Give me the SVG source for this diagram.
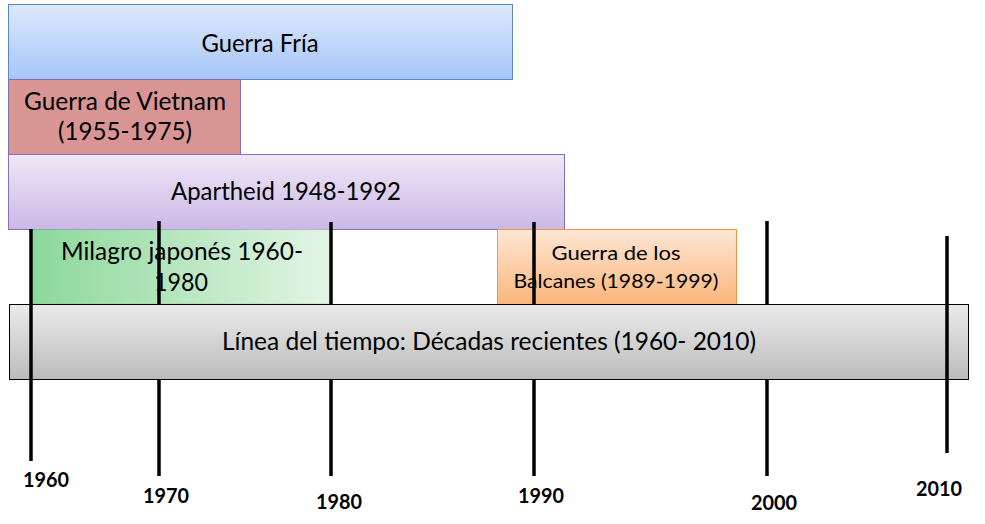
<svg xmlns="http://www.w3.org/2000/svg" width="985" height="524" viewBox="0 0 985 524">
<defs>
<linearGradient id="gBlue" x1="0" y1="0" x2="0" y2="1"><stop offset="0" stop-color="#dde9fc"/><stop offset="1" stop-color="#a6c5f8"/></linearGradient>
<linearGradient id="gPurple" x1="0" y1="0" x2="0" y2="1"><stop offset="0" stop-color="#efe7f7"/><stop offset="1" stop-color="#cbb8e6"/></linearGradient>
<linearGradient id="gGreen" x1="0" y1="0" x2="1" y2="0"><stop offset="0" stop-color="#8cd89a"/><stop offset="1" stop-color="#e3f5e6"/></linearGradient>
<linearGradient id="gOrange" x1="0" y1="0" x2="0" y2="1"><stop offset="0" stop-color="#fee7d5"/><stop offset="1" stop-color="#fbb57a"/></linearGradient>
<linearGradient id="gGray" x1="0" y1="0" x2="0" y2="1"><stop offset="0" stop-color="#ebebeb"/><stop offset="1" stop-color="#bbbbbb"/></linearGradient>
</defs>
<style>
.t{font-family:Lato,"Liberation Sans",sans-serif;fill:#000;text-anchor:middle}
.big{font-size:25px}
.mid{font-size:20px}
.yr{font-family:Lato,"Liberation Sans",sans-serif;font-weight:bold;font-size:21px;fill:#000;text-anchor:middle}
.tick{stroke:#000;stroke-width:3.5;fill:none}
</style>
<rect width="985" height="524" fill="#fff"/>
<g id="guerra-fria">
<rect x="8.5" y="4.5" width="504" height="75" fill="url(#gBlue)" stroke="#5b87c5" stroke-width="1"/>
<text class="t big" x="260" y="52" textLength="117" lengthAdjust="spacingAndGlyphs">Guerra Fría</text>
</g>
<g id="vietnam">
<rect x="8.5" y="79.5" width="232" height="75" fill="#d99594" stroke="#8070b0" stroke-width="1"/>
<text class="t big" x="125" y="110" textLength="202" lengthAdjust="spacingAndGlyphs">Guerra de Vietnam</text>
<text class="t big" x="125" y="140" textLength="134" lengthAdjust="spacingAndGlyphs">(1955-1975)</text>
</g>
<g id="apartheid">
<rect x="8.5" y="154.5" width="556" height="75" fill="url(#gPurple)" stroke="#8a6fbf" stroke-width="1"/>
<text class="t big" x="286" y="200" textLength="230" lengthAdjust="spacingAndGlyphs">Apartheid 1948-1992</text>
</g>
<g id="milagro">
<rect x="32" y="229.5" width="299" height="75" fill="url(#gGreen)"/>
<line x1="32" y1="304.5" x2="331" y2="304.5" stroke="#9bbb59" stroke-width="1.5"/>
<text class="t big" x="182" y="260" textLength="242" lengthAdjust="spacingAndGlyphs">Milagro japonés 1960-</text>
<text class="t big" x="181" y="291" textLength="54" lengthAdjust="spacingAndGlyphs">1980</text>
</g>
<g id="balcanes">
<rect x="497.5" y="229.5" width="239" height="75" fill="url(#gOrange)" stroke="#f79646" stroke-width="1"/>
<text class="t mid" x="616" y="260" textLength="129" lengthAdjust="spacingAndGlyphs">Guerra de los</text>
<text class="t mid" x="616" y="288" textLength="205" lengthAdjust="spacingAndGlyphs">Balcanes (1989-1999)</text>
</g>
<g id="connectors">
<line class="tick" x1="159" y1="221" x2="159" y2="318"/>
<line class="tick" x1="331" y1="222" x2="331" y2="318"/>
<line class="tick" x1="534" y1="222" x2="534" y2="319"/>
<line class="tick" x1="767" y1="221" x2="767" y2="318"/>
</g>
<g id="timeline">
<rect x="9.5" y="304.5" width="959" height="75" fill="url(#gGray)" stroke="#000" stroke-width="1"/>
<text class="t big" x="489" y="350" textLength="534" lengthAdjust="spacingAndGlyphs">Línea del tiempo: Décadas recientes (1960- 2010)</text>
</g>
<g id="ticks">
<line class="tick" x1="31" y1="229" x2="31" y2="461"/>
<line class="tick" x1="159" y1="380" x2="159" y2="476"/>
<line class="tick" x1="331" y1="380" x2="331" y2="476"/>
<line class="tick" x1="534" y1="380" x2="534" y2="476"/>
<line class="tick" x1="767" y1="380" x2="767" y2="476"/>
<line class="tick" x1="947" y1="236" x2="947" y2="453"/>
</g>
<g id="years">
<text class="yr" x="46" y="487" textLength="46" lengthAdjust="spacingAndGlyphs">1960</text>
<text class="yr" x="166" y="503" textLength="46" lengthAdjust="spacingAndGlyphs">1970</text>
<text class="yr" x="339" y="509" textLength="46" lengthAdjust="spacingAndGlyphs">1980</text>
<text class="yr" x="541" y="503" textLength="46" lengthAdjust="spacingAndGlyphs">1990</text>
<text class="yr" x="774" y="510" textLength="46" lengthAdjust="spacingAndGlyphs">2000</text>
<text class="yr" x="939" y="496" textLength="46" lengthAdjust="spacingAndGlyphs">2010</text>
</g>
</svg>
